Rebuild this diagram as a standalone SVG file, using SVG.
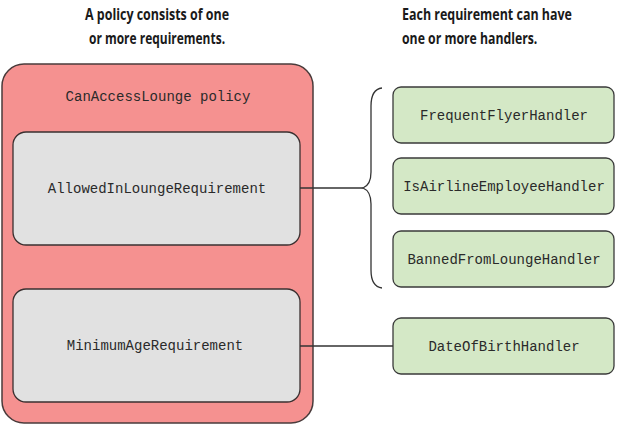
<svg xmlns="http://www.w3.org/2000/svg" width="617" height="426" viewBox="0 0 617 426">
<style>
.hd{font-family:"Open Sans","Liberation Sans",sans-serif;font-weight:bold;font-size:16.5px;fill:#1a1a1a}
.mono{font-family:"Liberation Mono","Courier New",monospace;font-size:14px;fill:#2a2a2a;text-anchor:middle}
.policy{fill:#f59190;stroke:#4a3b3b;stroke-width:1.5}
.req{fill:#e1e1e1;stroke:#3a3030;stroke-width:1.3}
.hnd{fill:#d4e8c6;stroke:#3a3a3a;stroke-width:1.3}
.ln{fill:none;stroke:#333;stroke-width:1.3}
</style>
<rect width="617" height="426" fill="#ffffff"/>
<g id="headers">
<text class="hd" transform="translate(157,20) scale(0.72,1)" text-anchor="middle" textLength="200" lengthAdjust="spacingAndGlyphs">A policy consists of one</text>
<text class="hd" transform="translate(157,44) scale(0.72,1)" text-anchor="middle" textLength="189" lengthAdjust="spacingAndGlyphs">or more requirements.</text>
<text class="hd" transform="translate(402,20) scale(0.72,1)" textLength="236" lengthAdjust="spacingAndGlyphs">Each requirement can have</text>
<text class="hd" transform="translate(402,44) scale(0.72,1)" textLength="188" lengthAdjust="spacingAndGlyphs">one or more handlers.</text>
</g>
<g id="policy">
<rect class="policy" x="2" y="64" width="311" height="359" rx="22"/>
<text class="mono" x="158" y="101">CanAccessLounge policy</text>
</g>
<g id="req-allowed">
<rect class="req" x="13" y="132" width="287" height="113" rx="13"/>
<text class="mono" x="157" y="193">AllowedInLoungeRequirement</text>
</g>
<g id="req-minage">
<rect class="req" x="13" y="289" width="287" height="113" rx="13"/>
<text class="mono" x="155" y="350">MinimumAgeRequirement</text>
</g>
<g id="h-frequent">
<rect class="hnd" x="393" y="87" width="221" height="56" rx="8"/>
<text class="mono" x="504" y="120">FrequentFlyerHandler</text>
</g>
<g id="h-airline">
<rect class="hnd" x="393" y="158" width="221" height="56" rx="8"/>
<text class="mono" x="504" y="191">IsAirlineEmployeeHandler</text>
</g>
<g id="h-banned">
<rect class="hnd" x="393" y="231" width="221" height="56" rx="8"/>
<text class="mono" x="504" y="264">BannedFromLoungeHandler</text>
</g>
<g id="h-dob">
<rect class="hnd" x="393" y="318" width="221" height="56" rx="8"/>
<text class="mono" x="504" y="351">DateOfBirthHandler</text>
</g>
<g id="connectors">
<path class="ln" d="M300 188 H363"/>
<path class="ln" d="M382 88 C374 89 371 96 371 106 V172 C371 182 368 186 363 188 C368 190 371 194 371 204 V270 C371 280 374 287 382 288"/>
<path class="ln" d="M300 346 H393"/>
</g>
</svg>
